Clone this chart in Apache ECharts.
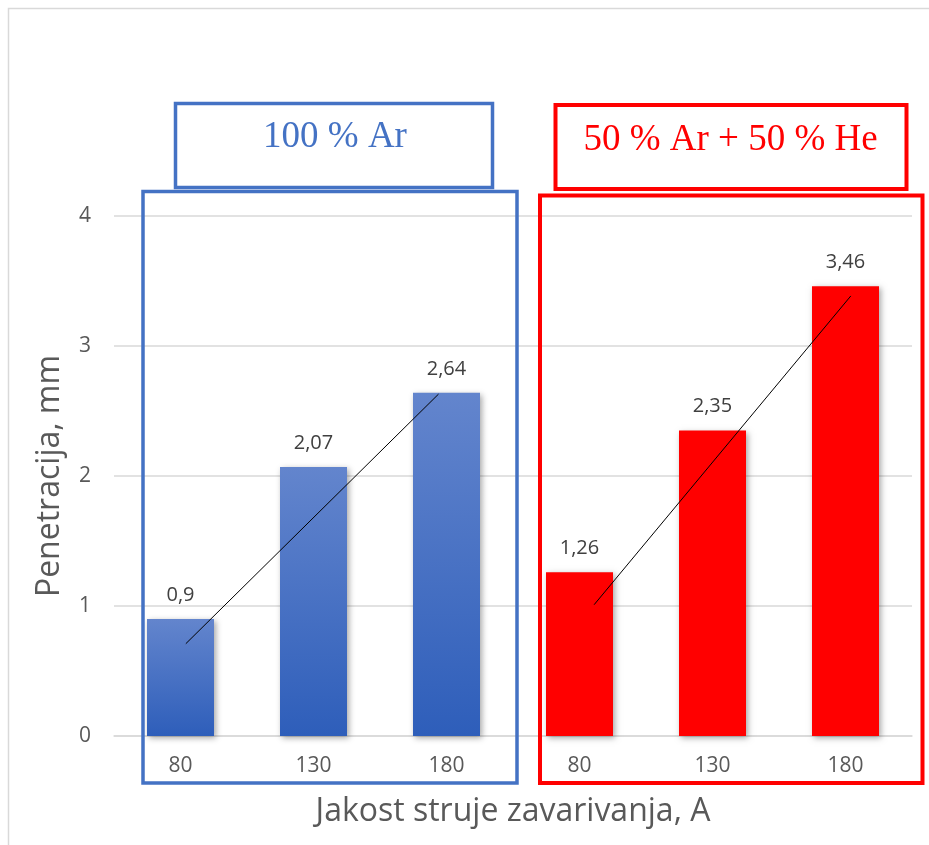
<!DOCTYPE html>
<html>
<head>
<meta charset="utf-8">
<script src="https://cdn.jsdelivr.net/npm/echarts@6/dist/echarts.min.js"></script>
<style>
html,body{margin:0;padding:0;background:#fff;}
#main{width:929px;height:845px;}
</style>
</head>
<body>
<div id="main"></div>
<script>
// ---- data ----
const categories = ['80', '130', '180', '80', '130', '180'];
const arValues = [0.9, 2.07, 2.64, null, null, null];
const arHeValues = [null, null, null, 1.26, 2.35, 3.46];
const blueTrend = [[0.04, 0.71], [1.94, 2.63]];
const redTrend = [[3.11, 1.01], [5.04, 3.385]];
const yTicks = [0, 1, 2, 3, 4];
const groupTitles = ['100 % Ar', '50 % Ar + 50 % He'];
const xAxisTitle = 'Jakost struje zavarivanja, A';
const yAxisTitle = 'Penetracija, mm';

const chart = echarts.init(document.getElementById('main'), null, {renderer: 'canvas'});
const fmt = p => String(p.value).replace('.', ',');
const shadow = {shadowBlur: 6, shadowOffsetX: 2, shadowOffsetY: 2, shadowColor: 'rgba(0,0,0,0.35)'};

const option = {
  backgroundColor: '#ffffff',
  animation: false,
  grid: {left: 114, right: 17, top: 216, bottom: 109},
  xAxis: [{
    type: 'category',
    data: categories,
    axisLine: {show: true, lineStyle: {color: '#d9d9d9', width: 1.5}},
    axisTick: {show: false},
    axisLabel: {color: '#595959', fontSize: 21, fontFamily: 'Open Sans', margin: 20},
    name: xAxisTitle,
    nameLocation: 'middle',
    nameGap: 60,
    nameTextStyle: {color: '#595959', fontSize: 32, fontFamily: 'Open Sans'}
  }, {
    type: 'value',
    min: -0.5, max: 5.5,
    show: false
  }],
  yAxis: {
    type: 'value',
    min: yTicks[0], max: yTicks[yTicks.length - 1], interval: 1,
    axisLine: {show: false},
    axisTick: {show: false},
    splitLine: {lineStyle: {color: '#d9d9d9', width: 1.5}},
    axisLabel: {color: '#595959', fontSize: 21, fontFamily: 'Open Sans', margin: 23},
    name: yAxisTitle,
    nameLocation: 'middle',
    nameGap: 48,
    nameTextStyle: {color: '#595959', fontSize: 32, fontFamily: 'Open Sans'}
  },
  series: [{
    type: 'bar',
    data: arValues,
    barWidth: 67,
    barGap: '-100%',
    itemStyle: Object.assign({
      color: new echarts.graphic.LinearGradient(0, 0, 0, 1, [
        {offset: 0, color: '#6385cd'},
        {offset: 1, color: '#2e5eba'}
      ])
    }, shadow),
    label: {show: true, position: 'top', distance: 14, formatter: fmt,
      color: '#404040', fontSize: 20, fontFamily: 'Open Sans'}
  }, {
    type: 'bar',
    data: arHeValues,
    barWidth: 67,
    barGap: '-100%',
    itemStyle: Object.assign({color: '#ff0000'}, shadow),
    label: {show: true, position: 'top', distance: 14, formatter: fmt,
      color: '#404040', fontSize: 20, fontFamily: 'Open Sans'}
  }, {
    type: 'line',
    xAxisIndex: 1,
    data: blueTrend,
    symbol: 'none',
    lineStyle: {color: '#000', width: 1},
    z: 5
  }, {
    type: 'line',
    xAxisIndex: 1,
    data: redTrend,
    symbol: 'none',
    lineStyle: {color: '#000', width: 1},
    z: 5
  }],
  graphic: [
    {type: 'rect', silent: true, z: 0, shape: {x: 8.5, y: 8.5, width: 1000, height: 1000},
      style: {fill: 'none', stroke: '#d9d9d9', lineWidth: 1.5}},
    {type: 'rect', silent: true, z: 10, shape: {x: 175.5, y: 103.5, width: 317, height: 84},
      style: {fill: 'none', stroke: '#4472c4', lineWidth: 3.5}},
    {type: 'rect', silent: true, z: 10, shape: {x: 143, y: 191.5, width: 374, height: 591.5},
      style: {fill: 'none', stroke: '#4472c4', lineWidth: 3.5}},
    {type: 'rect', silent: true, z: 10, shape: {x: 555.5, y: 105, width: 351, height: 84},
      style: {fill: 'none', stroke: '#ff0000', lineWidth: 4}},
    {type: 'rect', silent: true, z: 10, shape: {x: 540, y: 195.5, width: 382.5, height: 587.5},
      style: {fill: 'none', stroke: '#ff0000', lineWidth: 4}},
    {type: 'text', silent: true, z: 11, x: 335, y: 137,
      style: {text: groupTitles[0], fill: '#4472c4', font: '37px "Liberation Serif"', align: 'center', verticalAlign: 'middle'}},
    {type: 'text', silent: true, z: 11, x: 730.5, y: 140,
      style: {text: groupTitles[1], fill: '#ff0000', font: '37px "Liberation Serif"', align: 'center', verticalAlign: 'middle'}}
  ]
};
chart.setOption(option);
</script>
</body>
</html>
